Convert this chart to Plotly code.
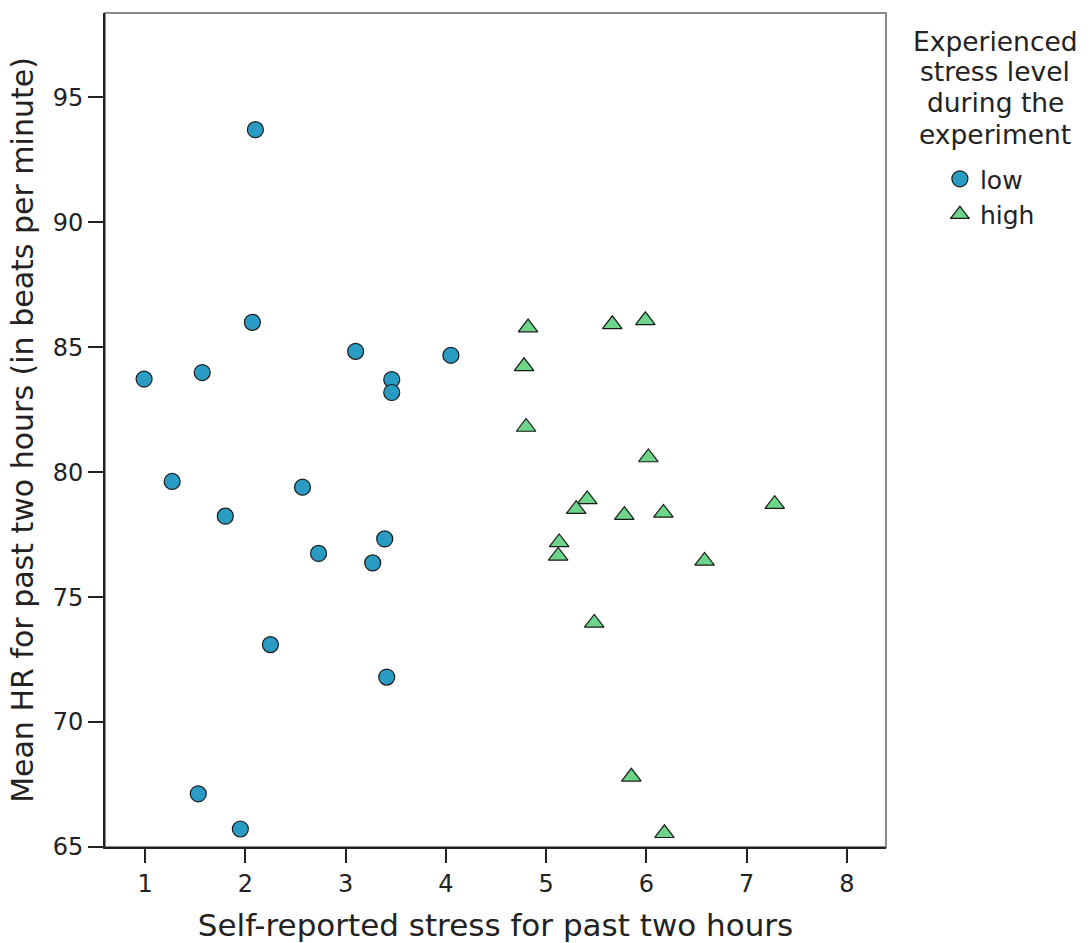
import plotly.graph_objects as go

# Low stress group (circles)
low_x = [0.99, 1.57, 2.07, 3.10, 3.46, 3.46, 4.05, 1.27, 2.57, 1.80, 2.73, 3.39, 3.27, 2.10, 2.25, 3.41, 1.53, 1.95]
low_y = [83.73, 83.99, 86.00, 84.84, 83.71, 83.19, 84.68, 79.63, 79.40, 78.24, 76.75, 77.33, 76.37, 93.71, 73.10, 71.80, 67.13, 65.72]

# High stress group (triangles)
high_x = [4.82, 5.66, 5.99, 4.78, 4.80, 6.02, 5.41, 5.30, 5.78, 6.17, 7.28, 5.13, 5.12, 6.58, 5.48, 5.85, 6.18]
high_y = [85.79, 85.92, 86.08, 84.24, 81.81, 80.59, 78.91, 78.52, 78.28, 78.37, 78.72, 77.19, 76.65, 76.45, 73.97, 67.81, 65.55]

x_ticks = [1, 2, 3, 4, 5, 6, 7, 8]
y_ticks = [65, 70, 75, 80, 85, 90, 95]

legend_title_lines = ["Experienced", "stress level", "during the", "experiment"]

FONT = "DejaVu Sans"
TXT = "#222222"

fig = go.Figure()
fig.add_trace(go.Scatter(
    x=low_x, y=low_y, mode="markers", name="low",
    marker=dict(symbol="circle", size=16, color="#2a9cc4",
                line=dict(color="#1a1a1a", width=1.2)),
    cliponaxis=False,
))
fig.add_trace(go.Scatter(
    x=high_x, y=high_y, mode="markers", name="high",
    marker=dict(symbol="triangle-up", size=17, color="#6ed48a",
                line=dict(color="#1a1a1a", width=1.2)),
    cliponaxis=False,
))

# legend title as separate lines (tight line spacing)
title_y = [0.9664, 0.9293, 0.8921, 0.8549]
annotations = [
    dict(text=t, xref="paper", yref="paper", x=1.1396, y=yy,
         xanchor="center", yanchor="middle", showarrow=False,
         font=dict(family=FONT, size=26.5, color=TXT))
    for t, yy in zip(legend_title_lines, title_y)
]

fig.update_layout(
    width=1091, height=943,
    margin=dict(l=105, r=205, t=13, b=96),
    paper_bgcolor="white", plot_bgcolor="white",
    font=dict(family=FONT, color=TXT, size=24),
    showlegend=True,
    legend=dict(
        x=1.069, xanchor="left", y=0.8285, yanchor="top",
        font=dict(family=FONT, size=25, color=TXT),
        itemsizing="trace", tracegroupgap=0, itemwidth=30,
        bgcolor="rgba(0,0,0,0)",
    ),
    annotations=annotations,
    shapes=[dict(type="rect", xref="paper", yref="paper", x0=0, y0=0, x1=1, y1=1,
                 line=dict(color="#8a8a8a", width=2), layer="below")],
)

fig.update_xaxes(
    range=[0.6, 8.39], tickvals=x_ticks, ticktext=[str(v) for v in x_ticks],
    showgrid=False, zeroline=False, showline=True, linecolor="#222222", linewidth=2,
    ticks="outside", ticklen=14, tickwidth=2, tickcolor="#222222",
    tickfont=dict(family=FONT, size=24, color=TXT),
    title=dict(text="Self-reported stress for past two hours",
               font=dict(family=FONT, size=31, color=TXT), standoff=18),
    automargin=False,
)
fig.update_yaxes(
    range=[65, 98.38], tickvals=y_ticks, ticktext=[str(v) for v in y_ticks],
    showgrid=False, zeroline=False, showline=True, linecolor="#222222", linewidth=2,
    ticks="outside", ticklen=15, tickwidth=2, tickcolor="#222222",
    tickfont=dict(family=FONT, size=24, color=TXT),
    title=dict(text="Mean HR for past two hours (in beats per minute)",
               font=dict(family=FONT, size=30, color=TXT), standoff=10),
    automargin=False,
)

fig.write_html("out.html")
